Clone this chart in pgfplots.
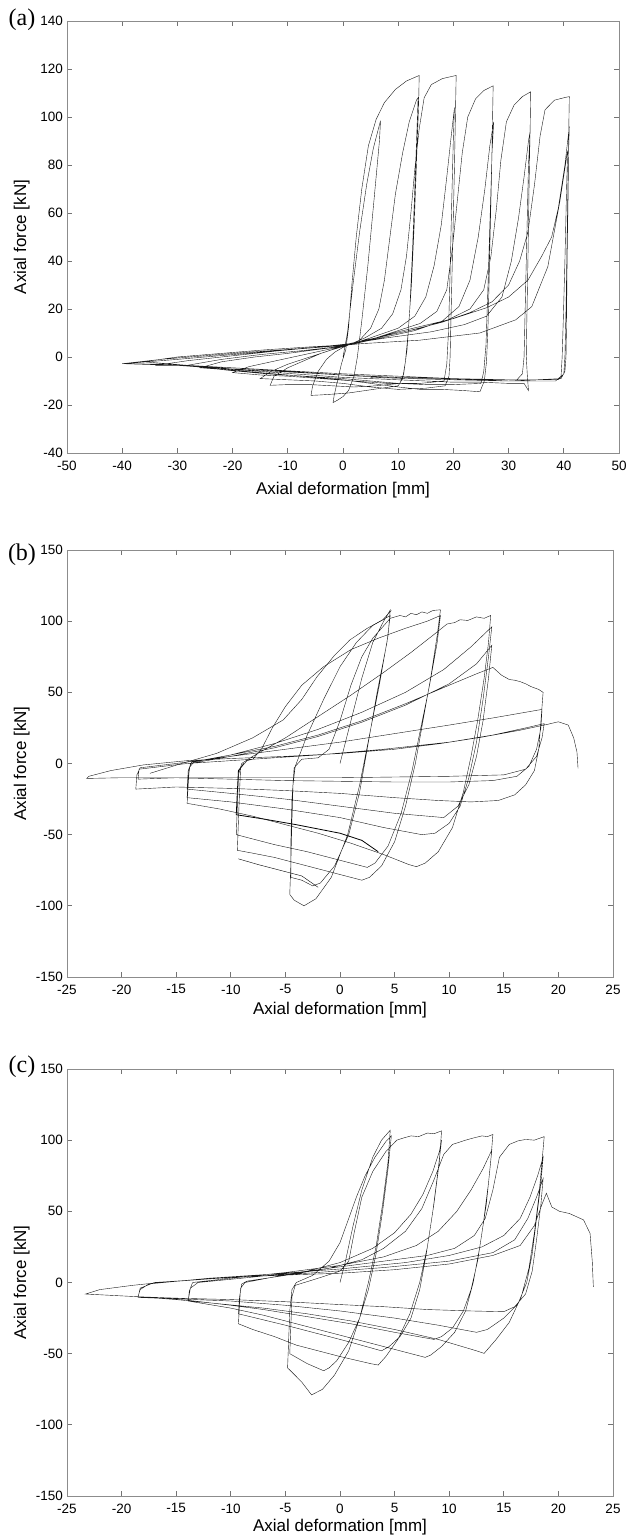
\documentclass[border=0pt]{standalone}
\usepackage{fontspec}
\setmainfont{Liberation Sans}
\newfontfamily\seriffont{Liberation Serif}
\usepackage{pgfplots}
\pgfplotsset{compat=1.18}

\pgfplotsset{
  panel/.style={
    scale only axis, anchor=south west,
    axis line style={draw=black!45, line width=0.8pt},
    tick style={draw=black!55, line width=0.7pt},
    major tick length=5pt, tick align=inside,
    ticklabel style={font=\fontsize{13.5}{15}\selectfont},
    xticklabel style={inner sep=1pt, yshift=-6.5pt},
    yticklabel style={inner sep=1pt, xshift=-3pt},
    /pgf/number format/assume math mode=true,
    label style={font=\fontsize{17}{20}\selectfont},
    xlabel={Axial deformation [mm]},
    ylabel={Axial force [kN]},
    no markers,
    cycle list={{black!90, line width=0.8pt, line join=round}},
  },
}

\begin{document}
\begin{tikzpicture}[x=1pt,y=1pt]
\path[use as bounding box] (0,0) rectangle (625,1540);

% ---------- (a)
\begin{axis}[panel,
  at={(67pt,1087pt)}, width=552pt, height=432pt,
  xmin=-50, xmax=50, ymin=-40, ymax=140,
  xtick={-50,-40,...,50}, ytick={-40,-20,...,140},
  xlabel style={at={(axis description cs:0.5,0)}, anchor=center, yshift=-37pt},
  ylabel style={at={(axis description cs:-0.0822,0.5)}, anchor=center},
]
\addplot coordinates {
(0,0)
(0.8,10)(1.8,30)(3,52)(4.3,72)(5.5,87)(6.8,98.5)
(6.6,90)(5.6,65)(4.5,38)(3.4,15)(2.6,0)(2,-8)
(1,-14)(0,-16.5)(-1,-18)(-1.8,-19)
(-1.6,-16)(-1,-10)(-0.3,-3)(0.5,3)
(1,12)(1.6,30)(2.4,50)(3.4,70)(4.6,88)(6,99)(7.5,106)(9.5,111.5)(11.5,115)(13.8,117.3)
(13.7,105)(13.3,80)(12.9,55)(12.4,30)(11.8,10)(11.3,-2)(10.8,-9)(10,-12)
(7,-13)(4,-14)(1,-15)(-2,-15.5)(-4,-15.8)(-5.8,-16)
(-5.5,-12)(-4.5,-6)(-3,-1)(-1.5,2)(0,4)(1,5)
(3,7)(5,12)(6.5,20)(7.5,32)(8.5,50)(9.5,68)(10.8,85)(12,98)(13.3,107)(13.6,108)
(13.4,95)(13,70)(12.6,45)(12.1,20)(11.6,3)(11,-7)(10.3,-11)
(6,-12)(2,-12.5)(-2,-12)(-6,-11.5)(-10,-11.5)(-13.2,-11.8)
(-12.5,-8)(-10,-4.5)(-7,-1.5)(-4,1.5)(-1,3.8)(1,5)
(4,8)(7,12)(9,18)(10.5,28)(11.5,42)(12.3,60)(13,78)(13.8,95)(14.7,108)(16,113.5)(18,116)(20.5,117.3)
(20.4,105)(20.2,80)(19.9,50)(19.6,20)(19.4,0)(19.2,-8)(18.5,-12)
(15,-13)(10,-13.5)(5,-12.5)(0,-11)(-5,-10)(-10,-9.5)(-15,-9)
(-13,-6)(-10,-3)(-6,0)(-2,3)(1,5)
(5,8)(10,12)(13,17)(15,25)(16.5,38)(17.8,55)(18.8,75)(19.6,92)(20.2,104)
(20,92)(19.7,65)(19.4,35)(19.1,10)(18.8,-3)(18.3,-10)
(14,-11)(8,-11)(2,-10)(-4,-9)(-10,-8)(-15,-7.5)(-20,-6.5)
(-17,-4)(-12,-1.5)(-6,1.5)(-1,4)(2,5.5)
(6,8)(10,11)(14,14)(17,19)(18.8,28)(19.8,45)(20.7,65)(21.6,85)(22.6,100)(24,107.5)(25.5,111)(27.2,113)
(27.1,100)(26.9,75)(26.6,45)(26.3,15)(26,-2)(25.6,-10)(24.8,-14.5)
(22,-14)(18,-13.5)(14,-13.5)(10,-12.5)(5,-11)(0,-9.5)(-5,-8.5)(-10,-7.5)(-15,-6.5)(-20,-5.5)(-25.9,-4.5)
(-22,-2)(-16,0)(-10,1.5)(-5,3)(0,4.5)(2,5.5)
(7,8)(13,11)(18,15)(21,21)(23,32)(24.5,50)(25.7,70)(26.6,88)(27.3,98)
(27,85)(26.6,55)(26.2,25)(25.9,5)(25.5,-6)(25,-11)
(20,-11.5)(15,-11.5)(10,-11)(5,-10)(0,-9)(-7,-8)(-14,-7)(-21,-5.5)(-28.3,-3.5)
(-22,-1)(-15,1)(-8,2.5)(-2,4)(2,5.5)
(8,9)(14,12)(19,15.5)(23,20)(25.5,28)(26.8,42)(27.8,62)(28.6,82)(29.6,98)(31,105)(32.5,108.5)(34,110.5)
(33.9,95)(33.7,70)(33.5,40)(33.3,15)(33.2,0)(33.4,-8)(33.6,-14)(32.8,-11)
(30,-11)(25,-10.5)(20,-10.5)(15,-10)(10,-9.5)(5,-9)(0,-8.5)(-6,-7.5)(-12,-6.5)(-18,-5.5)(-24,-4.5)(-30,-3.5)(-34,-3.5)
(-28,-1.5)(-20,0.5)(-12,2.5)(-5,4)(1,5.5)
(8,8)(16,10.5)(22,13.5)(26,17)(28.8,25)(30.5,40)(31.8,58)(32.8,75)(33.6,90)(33.9,94)
(33.6,80)(33.3,50)(33,20)(32.8,0)(32.5,-7)(31.5,-9.5)
(25,-9.5)(18,-9)(10,-8.5)(3,-8)(-4,-7)(-12,-6)(-20,-5)(-28,-3.5)(-36.2,-2)
(-30,0)(-22,1.5)(-14,3)(-6,4.2)(0,5)
(6,8)(12,11)(18,14.5)(23,18.5)(27,23)(30,30)(32,40)(33.5,52)(34.7,72)(35.7,92)(36.6,103)(38.3,107)(40,108)(41,108.5)
(40.9,95)(40.8,70)(40.6,40)(40.5,15)(40.4,0)(40.2,-6)(39.5,-9)
(35,-9.5)(30,-10)(25,-9.5)(20,-9)(15,-8.5)(10,-8)(5,-7.5)(0,-7)(-8,-6)(-16,-5)(-24,-4)(-32,-3)(-40,-2.8)
(-33,-1)(-25,0.5)(-17,2)(-9,3.3)(-2,4.5)(2,5.5)
(10,10.5)(20,16)(26,20.5)(30,25)(33.5,32)(36,42)(37.8,50)(39,62)(40.2,80)(41,96)
(40.8,80)(40.6,50)(40.4,20)(40.2,0)(40,-7)(39,-9.5)
(30,-9.5)(20,-9)(10,-8.5)(0,-7.5)(-10,-6)(-20,-4.5)(-30,-3.5)(-39.8,-2.8)
(-30,-1)(-20,1)(-10,3)(0,4.8)(3,5.5)
(13.9,7)(24.8,10)(31.3,15.5)(34.2,21)(37.1,37.6)(39.3,65)(40.7,86)
(40.5,70)(40.2,40)(39.9,15)(39.7,0)(39.5,-8)(38.5,-10)
(30,-10)(20,-9.5)(12,-9)(5,-8.5)
};
\end{axis}

% ---------- (b)
\begin{axis}[panel,
  at={(67pt,563pt)}, width=546pt, height=427pt,
  xmin=-25, xmax=25, ymin=-150, ymax=150,
  xtick={-25,-20,...,25}, ytick={-150,-100,...,150},
  xlabel style={at={(axis description cs:0.5,0)}, anchor=center, yshift=-33pt},
  ylabel style={at={(axis description cs:-0.0831,0.5)}, anchor=center},
]
\addplot coordinates {
(-17.4,-6.9)(-14.5,0)(-11.3,7.1)(-8,18)(-5.2,30.6)(-3.5,45)(-2.1,61)(-0.5,76)(0.9,86.8)(2.5,95)(3.9,100.8)(4.7,107.5)
};
\addplot coordinates {
(3.5,-62)(2,-54)(0,-49)(-4,-43)(-7,-39)(-9.5,-36)(-9.4,-20)(-9.3,-5)(-8.8,0)
};
\addplot coordinates {
(-2,-87)(-3.5,-79)(-5.5,-75)(-7.5,-71)(-9.3,-67)
};
\addplot coordinates {
(0,0)(1,30)(2,60)(3,85)(4,100)(4.6,107.8)
(4.4,90)(3.6,55)(2.7,20)(1.8,-15)(0.7,-50)(-0.8,-80)(-2.2,-95)(-3.3,-100)(-4.2,-96)(-4.6,-92)
(-4.5,-70)(-4.4,-40)(-4.3,-15)(-4.1,-2)
(-3,20)(-1.5,45)(0,68)(1.5,85)(3,97)(4.6,104)
(4.3,85)(3.4,50)(2.6,15)(1.8,-20)(0.8,-50)(-0.5,-72)(-1.8,-84)(-2.5,-86)(-3.5,-82)(-4.5,-80)
(-4.5,-55)(-4.4,-25)(-4.2,-3)(-3.5,3)
(-2,4)(-1,10)(0,30)(1,55)(2,75)(3,88)(4.6,102)(5.5,104)(6,103)(6.5,105.5)(7,104.5)(7.5,106.5)(8,105.5)(8.5,107.5)(9.2,108)
(8.9,90)(8.3,60)(7.6,30)(6.9,0)(6,-30)(5,-55)(3.8,-72)(2.7,-80)(2,-82)
(0,-78)(-2,-74)(-4,-70)(-6,-66)(-8,-63)(-9.4,-61)
(-9.3,-40)(-9.2,-20)(-9.1,-3)(-8.5,2)
(-8,3)(-7.2,10)(-6.2,25)(-5,40)(-3.5,55)(-1.5,68)(1,80)(3.5,88)(6,95)(8,100)(9.2,104)
(8.9,85)(8.2,55)(7.4,25)(6.6,-5)(5.6,-35)(4.4,-58)(3.2,-70)(2.5,-73)
(0,-68)(-3,-62)(-6,-57)(-9.5,-50)
(-9.4,-30)(-9.3,-8)(-9,0)
(-8,5)(-5,18)(-2,33)(1,48)(4,64)(6.5,78)(8.5,90)(9.8,98)(10.5,99)(11,101)(11.7,100.5)(12.5,103)(13.2,102)(13.8,104)
(13.6,85)(13.2,60)(12.6,30)(12,5)(11.3,-20)(10.3,-45)(9,-62)(7.8,-70)(7,-72.5)(6.3,-71)
(4,-64)(1,-56)(-2,-49)(-5,-43)(-8,-37)(-11,-32)(-14,-28)
(-13.9,-15)(-13.8,-3)(-13.4,1)
(-10,6)(-6,14)(-2,24)(2,36)(6,50)(9.5,66)(12,82)(13.9,96)
(13.6,75)(13.1,45)(12.5,15)(11.8,-10)(11,-30)(10,-42)(8.7,-49)(7.5,-50)
(4,-45)(0,-38)(-5,-32)(-10,-27)(-14,-24)
(-13.9,-10)(-13.7,0)
(-10,5)(-6,11)(-2,19)(2,29)(6,41)(10,56)(12.5,70)(13.9,83)
(13.6,60)(13.1,30)(12.5,5)(11.8,-15)(10.8,-30)(9.5,-38)
(5,-35)(0,-30)(-5,-25)(-10,-21)(-14,-18)
(-13.9,-5)(-13.6,1)
(-10,6)(-6,12)(-2,20)(2,30)(6,42)(10,55)(12.5,63)(14,67.5)(14.8,62)(15.5,59)(16,58.5)(16.5,57.5)(17,56)(17.5,54)(18.2,52)(18.6,50)
(18.5,40)(18.4,30)(18.2,10)(17.8,-5)(17,-15)(16,-22)(14.5,-26)(12,-27)(9,-26)(5,-24)(0,-21)(-5,-19)(-10,-17.5)(-15,-16.5)(-18.7,-18)
(-18.6,-8)(-18.3,-3)
(-15,0)(-10,5)(-5,10)(0,15)(5,21)(10,27)(14,32)(17,36)(18.5,38)
(18.4,25)(18,10)(17.3,-2)(16.2,-9)(14,-12)(10,-13)(5,-13)(0,-12.5)(-5,-12)(-10,-11)(-15,-10)(-18.5,-11)
(-18.4,-4)
(-14,0)(-8,3)(-2,6)(4,10)(10,15)(14,20)(17,25)(18.7,28)
(18.5,18)(18,5)(17,-4)(15,-8)(10,-9)(5,-9.5)(0,-10)(-5,-10)(-10,-10)(-15,-10)(-20,-10)(-23.2,-10.5)
(-23,-9)(-21,-5)(-18,-1)(-14,2)(-10,3.5)(-5,5)(0,7)(5,10)(9.2,14)(13,18.5)(16.5,23.4)(19,27.5)(20,29.3)(20.9,27)(21.4,18)(21.7,8)(21.8,-3.5)
};
\end{axis}

% ---------- (c)
\begin{axis}[panel,
  at={(67pt,44pt)}, width=546pt, height=427pt,
  xmin=-25, xmax=25, ymin=-150, ymax=150,
  xtick={-25,-20,...,25}, ytick={-150,-100,...,150},
  xlabel style={at={(axis description cs:0.5,0)}, anchor=center, yshift=-31pt},
  ylabel style={at={(axis description cs:-0.0831,0.5)}, anchor=center},
]
\addplot coordinates {
(0,0)(0.5,15)(1.2,40)(2,65)(3,88)(3.8,100)(4.6,107)
(4.4,85)(3.9,55)(3.3,25)(2.6,0)(1.8,-25)(0.8,-48)(-0.5,-65)(-1.6,-75)(-2.6,-79)
(-3.5,-70)(-4.4,-63)(-4.8,-60)
(-4.7,-40)(-4.6,-20)(-4.4,-5)(-4,0)
(-2.5,5)(-1,15)(0,28)(0.8,45)(1.5,60)(2.3,75)(3.2,88)(4.2,99)(4.7,103)
(4.4,80)(3.9,50)(3.3,20)(2.6,-5)(1.8,-25)(0.8,-42)(-0.3,-55)(-1,-60)(-1.5,-62)
(-3,-57)(-4.6,-50)
(-4.5,-30)(-4.4,-10)(-4.1,-2)
(-2,3)(0,8)(0.8,15)(1.3,35)(2,60)(3,78)(4.2,92)(5.2,100)(5.8,101.5)(6.5,103)(7.2,102.5)(8,105)(8.6,104.5)(9.3,106.5)
(9.1,85)(8.6,55)(8,25)(7.3,0)(6.4,-22)(5.3,-40)(4.2,-52)(3.5,-58)(2.8,-57)
(0,-52)(-2,-48)(-4,-44)(-6,-38)(-8,-33)(-9.3,-29)
(-9.2,-15)(-9.1,-4)(-8.7,0)
(-6,4)(-3,8)(0,14)(3,24)(5,35)(6.5,48)(7.6,62)(8.5,78)(9.1,92)(9.3,100)
(9,80)(8.5,50)(7.9,20)(7.3,-5)(6.5,-25)(5.5,-38)(4.5,-45)(3.8,-48)
(1,-42)(-2,-36)(-5,-30)(-9.3,-22)
(-9.2,-10)(-9,-1)(-8.5,1)
(-5,5)(-1,10)(2,16)(4,24)(6,36)(7.5,52)(8.6,72)(9.5,90)(10.3,97)(11.5,100)(12.2,101.5)(13,103)(13.5,102.5)(14,104)
(13.8,85)(13.4,55)(12.8,25)(12.2,0)(11.5,-20)(10.5,-35)(9.3,-45)(8.3,-51)(7.8,-52.6)
(5,-47)(2,-41)(-1,-35)(-4,-29)(-7,-23)(-10,-18)(-13.9,-13)
(-13.8,-6)(-13.5,0)
(-10,3)(-5,7)(0,12)(4,18)(7,26)(9,36)(10.7,50)(12,65)(13.1,80)(13.9,93)
(13.6,70)(13.1,40)(12.6,15)(12,-5)(11.3,-20)(10.3,-32)(9.3,-38)(8.6,-40)
(5,-35)(1,-29)(-3,-24)(-7,-19)(-10,-16)(-13.9,-12.5)
(-13.7,-4)(-13,0)
(-9,3)(-4,7)(0,11)(4,15)(8,19)(10.5,24)(12.3,33)(13.3,45)(14,65)(14.6,88)(15.5,97)(16.3,99.5)(17,100.5)(17.8,100)(18.7,102.5)
(18.5,85)(18.2,60)(17.8,35)(17.3,10)(16.6,-10)(15.5,-28)(14.3,-40)(13.2,-49.8)(12.5,-48)
(9,-40)(5,-33)(1,-27)(-3,-22)(-7,-18)(-11,-15)(-15,-12)(-18.5,-10)
(-18.3,-5)(-17.5,-1)
(-12,3)(-6,6)(0,9.5)(6,14)(10,19)(13,25)(15,33)(16.5,45)(17.4,60)(18.1,75)(18.6,88)
(18.4,70)(18,45)(17.6,20)(17.1,0)(16.3,-15)(15,-25)(13.5,-33)(12.5,-35)
(9,-30)(5,-25)(0,-20)(-5,-16)(-10,-13)(-15,-11.5)(-18.5,-10.5)
(-18.3,-4)(-17,0)
(-10,3.5)(-3,6.5)(4,10.5)(10,15)(14,21)(16,30)(17.2,45)(18,60)(18.6,73)
(18.4,55)(18,30)(17.6,8)(17,-8)(16,-17)(15,-20.5)(12,-20)(8,-19)(4,-17)(0,-15.5)(-5,-13.5)(-10,-12)(-15,-11)(-18.5,-10)(-23.3,-8.1)
(-22,-5)(-19,-2)(-16.5,0)(-12,2.5)(-9,4)(-4,5.5)(0,6.5)(5,9)(10,13)(14,19)(16.5,26)(17.8,40)(18.5,55)(18.9,62.7)(19.4,53)(20.1,50)(21,48.5)(22.3,44)(22.9,34.5)(23.1,15)(23.2,-3)
};
\end{axis}

\node[font=\seriffont\fontsize{24}{26}\selectfont] at (22,1520) {(a)};
\node[font=\seriffont\fontsize{24}{26}\selectfont] at (22,985) {(b)};
\node[font=\seriffont\fontsize{24}{26}\selectfont] at (22,473) {(c)};
\end{tikzpicture}
\end{document}
